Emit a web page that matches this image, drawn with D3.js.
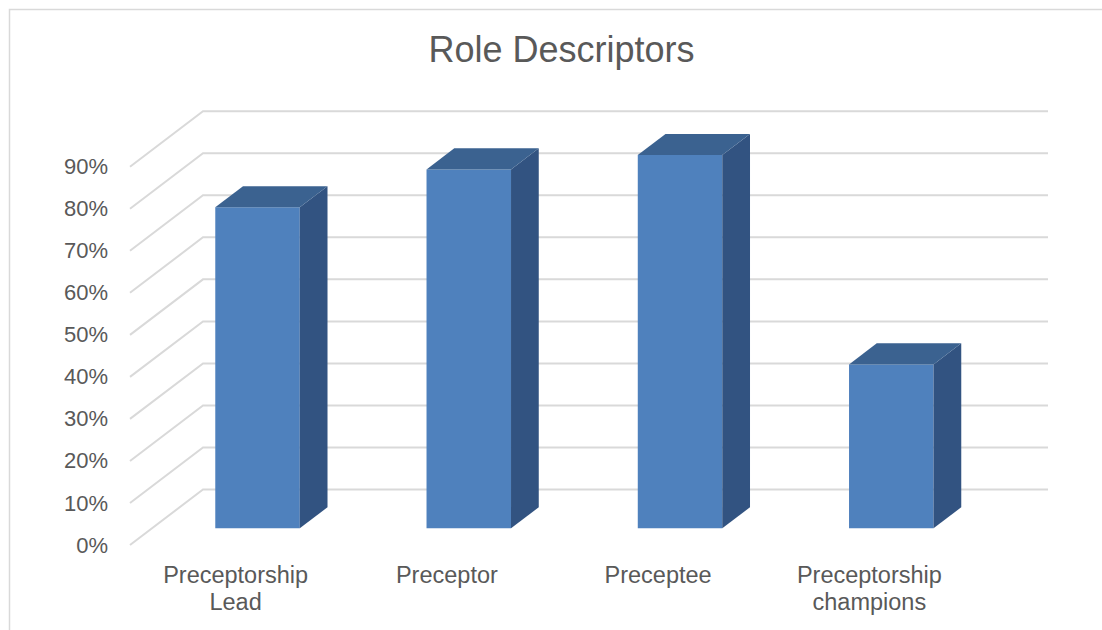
<!DOCTYPE html>
<html>
<head>
<meta charset="utf-8">
<script src="https://cdn.jsdelivr.net/npm/d3@7"></script>
<style>
  html, body { margin: 0; padding: 0; background: #fff; }
  svg { display: block; font-family: "Liberation Sans", Arial, sans-serif; }
</style>
</head>
<body>
<svg id="chart" width="1102" height="630"></svg>
<script>
// Chart data
const title = "Role Descriptors";
const categories = [["Preceptorship", "Lead"], ["Preceptor"], ["Preceptee"], ["Preceptorship", "champions"]];
const values = [0.764, 0.854, 0.888, 0.39];
const tickValues = [0, 0.1, 0.2, 0.3, 0.4, 0.5, 0.6, 0.7, 0.8, 0.9];

const svg = d3.select("#chart");
const W = 1102, H = 630;

// Oblique 3D projection: depth t in [0,1] shifts right and up
const depth = { dx: 73, dy: -55.5 };
const barDepth = [0.3, 0.68];            // bar front / back depth fraction
const floorFront = { x0: 130, x1: 975, y: 545 };

const y = d3.scaleLinear().domain([0, 0.9]).range([floorFront.y, floorFront.y - 0.9 * 420.3]);
const x = d3.scaleBand()
  .domain(d3.range(categories.length))
  .range([floorFront.x0, floorFront.x1])
  .paddingInner(0.6)
  .paddingOuter(0.3);

const proj = (px, py, t) => [px + depth.dx * t, py + depth.dy * t];

const grid = "#d9d9d9";
const textColor = "#595959";

// chart frame
svg.append("path")
  .attr("d", `M9.5,${H} V9.5 H${W}`)
  .attr("fill", "none")
  .attr("stroke", grid)
  .attr("stroke-width", 1.5);

// title
svg.append("text")
  .attr("x", 561.5)
  .attr("y", 62)
  .attr("text-anchor", "middle")
  .attr("font-size", 36)
  .attr("fill", textColor)
  .text(title);

// gridlines: side wall diagonal + back wall horizontal
const gridG = svg.append("g").attr("stroke", grid).attr("stroke-width", 2).attr("fill", "none");
tickValues.forEach(v => {
  const a = proj(floorFront.x0, y(v), 0);
  const b = proj(floorFront.x0, y(v), 1);
  const c = proj(floorFront.x1, y(v), 1);
  gridG.append("path").attr("d", `M${a[0]},${a[1]} L${b[0]},${b[1]} L${c[0]},${c[1]}`);
});

// y axis labels on the front edge
const yAxis = d3.axisLeft(y)
  .tickValues(tickValues)
  .tickFormat(d3.format(".0%"))
  .tickSize(0)
  .tickPadding(22);
const yg = svg.append("g").attr("transform", `translate(${floorFront.x0},0)`).call(yAxis);
yg.select(".domain").remove();
yg.selectAll("text")
  .attr("font-size", 22)
  .attr("font-family", "Liberation Sans, Arial, sans-serif")
  .attr("fill", textColor);

// bars as 3D boxes
const faceColor = "#4f81bd", topColor = "#3b6290", sideColor = "#325381";
const bars = svg.append("g");
values.forEach((v, i) => {
  const x0 = x(i), x1 = x(i) + x.bandwidth();
  const yb = y(0), yt = y(v);
  const [tf, tb] = barDepth;
  const p = (px, py, t) => proj(px, py, t).join(",");
  const g = bars.append("g");
  // front face
  g.append("path")
    .attr("d", `M${p(x0, yb, tf)} L${p(x1, yb, tf)} L${p(x1, yt, tf)} L${p(x0, yt, tf)} Z`)
    .attr("fill", faceColor);
  // right side face
  g.append("path")
    .attr("d", `M${p(x1, yb, tf)} L${p(x1, yb, tb)} L${p(x1, yt, tb)} L${p(x1, yt, tf)} Z`)
    .attr("fill", sideColor);
  // top face
  g.append("path")
    .attr("d", `M${p(x0, yt, tf)} L${p(x1, yt, tf)} L${p(x1, yt, tb)} L${p(x0, yt, tb)} Z`)
    .attr("fill", topColor);
});

// category labels
const catG = svg.append("g")
  .attr("font-size", 23.5)
  .attr("fill", textColor)
  .attr("text-anchor", "middle");
categories.forEach((lines, i) => {
  const t = catG.append("text")
    .attr("x", x(i) + x.bandwidth() / 2)
    .attr("y", 582.5);
  lines.forEach((line, j) => {
    t.append("tspan")
      .attr("x", x(i) + x.bandwidth() / 2)
      .attr("dy", j === 0 ? 0 : 27.5)
      .text(line);
  });
});
</script>
</body>
</html>
